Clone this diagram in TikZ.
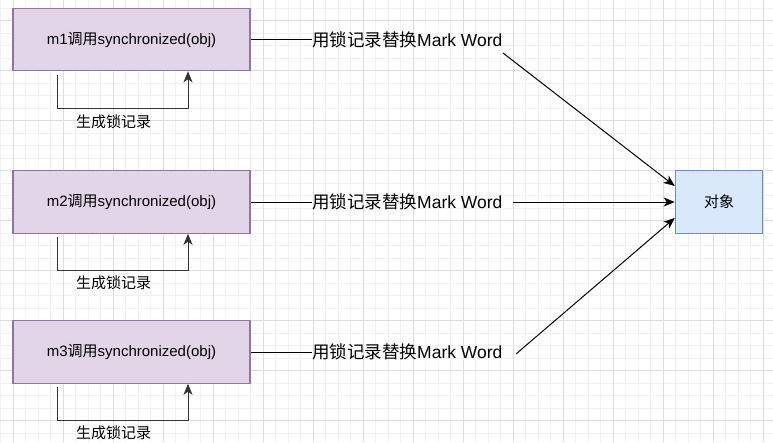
\documentclass[tikz,border=0pt]{standalone}
\usepackage{fontspec}
\setmainfont{Liberation Sans}
\newfontfamily\cjk{Noto Sans CJK SC}
\usetikzlibrary{arrows.meta}
\definecolor{gridminor}{HTML}{F2F2F2}
\definecolor{gridmajor}{HTML}{DEDEDE}
\definecolor{pfill}{HTML}{E1D5E7}
\definecolor{pdraw}{HTML}{9673A6}
\definecolor{bfill}{HTML}{DAE8FC}
\definecolor{bdraw}{HTML}{6C8EBF}
\tikzset{
  mbox/.style={draw=pdraw, fill=pfill, line width=1.1pt, minimum width=237pt, minimum height=62.5pt, inner sep=0pt, font=\fontsize{15}{18}\selectfont},
  objbox/.style={draw=bdraw, fill=bfill, line width=1.1pt, minimum width=87.5pt, minimum height=62.5pt, inner sep=0pt, font=\fontsize{15}{18}\selectfont},
  elabel/.style={inner sep=0pt, anchor=west, font=\fontsize{17.5}{20}\selectfont},
  looplabel/.style={inner sep=0pt, font=\fontsize{15}{18}\selectfont},
  conn/.style={line width=1pt, black},
  arr/.style={conn, -{Stealth[length=11pt,width=9pt,inset=3pt]}},
  loopconn/.style={line width=1pt, black!80, -{Stealth[length=11pt,width=9pt,inset=3pt]}}
}
\begin{document}
\begin{tikzpicture}[x=1pt,y=-1pt]
\useasboundingbox (0,0) rectangle (773,442);
\fill[white] (0,0) rectangle (773,442);
% grid
\foreach \i in {0,...,61} {
  \draw[gridminor, line width=1pt] ({0.5+12.5*\i},0) -- ({0.5+12.5*\i},442);
}
\foreach \i in {0,...,35} {
  \draw[gridminor, line width=1pt] (0,{-4.5+12.5*\i}) -- (773,{-4.5+12.5*\i});
}
\foreach \i in {0,...,15} {
  \draw[gridmajor, line width=1pt] ({13+50*\i},0) -- ({13+50*\i},442);
}
\foreach \i in {0,...,8} {
  \draw[gridmajor, line width=1pt] (0,{20.5+50*\i}) -- (773,{20.5+50*\i});
}
% boxes
\node[mbox] (m1) at (131.5,39.5) {m1{\cjk 调用}synchronized(obj)};
\node[mbox] (m2) at (131.5,202) {m2{\cjk 调用}synchronized(obj)};
\node[mbox] (m3) at (131.5,352) {m3{\cjk 调用}synchronized(obj)};
\node[objbox] (obj) at (719,202) {\cjk 对象};
% edge labels
\node[elabel] (l1) at (312,39.5) {{\cjk 用锁记录替换}Mark Word};
\node[elabel] (l2) at (312,202) {{\cjk 用锁记录替换}Mark Word};
\node[elabel] (l3) at (312,352) {{\cjk 用锁记录替换}Mark Word};
\coordinate (e1) at (503,53);
\coordinate (e2) at (513,202);
\coordinate (e3) at (516,354);
\draw[conn] (m1.east) -- (l1.west);
\draw[conn] (m2.east) -- (l2.west);
\draw[conn] (m3.east) -- (l3.west);
\draw[arr] (e1) -- ([yshift=16pt]obj.west);
\draw[arr] (e2) -- (obj.west);
\draw[arr] (e3) -- ([yshift=-16pt]obj.west);
% self loops
\coordinate (s1) at (57,75);
\coordinate (s2) at (57,237);
\coordinate (s3) at (57,387);
\draw[loopconn] (s1) -- (57,108) -| ([xshift=56.5pt]m1.south);
\draw[loopconn] (s2) -- (57,270) -| ([xshift=56.5pt]m2.south);
\draw[loopconn] (s3) -- (57,420) -| ([xshift=56.5pt]m3.south);
\node[looplabel] (g1) at (113.5,122) {\cjk 生成锁记录};
\node[looplabel] (g2) at (113.5,283) {\cjk 生成锁记录};
\node[looplabel] (g3) at (113.5,433) {\cjk 生成锁记录};
\end{tikzpicture}
\end{document}
